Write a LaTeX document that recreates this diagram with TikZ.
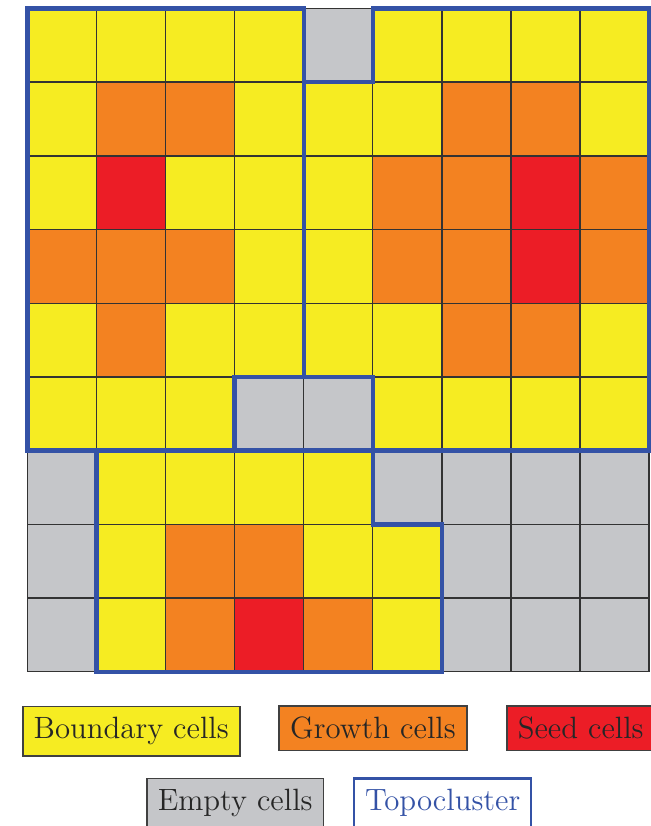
\documentclass[tikz,border=0pt]{standalone}
\usepackage{amsmath}

\definecolor{bc}{RGB}{246,236,34}
\definecolor{gc}{RGB}{243,130,33}
\definecolor{sc}{RGB}{236,29,38}
\definecolor{ec}{RGB}{197,198,201}
\definecolor{topoblue}{RGB}{52,82,166}

\tikzset{
    cellbox/.style={draw=black!80, line width=0.6pt},
    topoline/.style={draw=topoblue, line width=1.8pt},
    legbox/.style={draw=black!75, line width=0.7pt, inner sep=4.5pt,
        text=black!85, font=\fontsize{12.7}{15}\selectfont}
}

\begin{document}
\begin{tikzpicture}[x=1cm, y=1.0672cm]
    \useasboundingbox (-0.398,0.115) rectangle (9.028,-11.093);

    \foreach \row [count=\j from 0] in {
        {bc,bc,bc,bc,ec,bc,bc,bc,bc},
        {bc,gc,gc,bc,bc,bc,gc,gc,bc},
        {bc,sc,bc,bc,bc,gc,gc,sc,gc},
        {gc,gc,gc,bc,bc,gc,gc,sc,gc},
        {bc,gc,bc,bc,bc,bc,gc,gc,bc},
        {bc,bc,bc,ec,ec,bc,bc,bc,bc},
        {ec,bc,bc,bc,bc,ec,ec,ec,ec},
        {ec,bc,gc,gc,bc,bc,ec,ec,ec},
        {ec,bc,gc,sc,gc,bc,ec,ec,ec}}
    {
        \foreach \c [count=\i from 0] in \row
            \filldraw[cellbox, fill=\c] (\i,-\j) rectangle ++(1,-1);
    }

    \draw[topoline] (0,0) -- (4,0) -- (4,-5) -- (3,-5) -- (3,-6) -- (0,-6) -- cycle;
    \draw[topoline] (4,-1) -- (5,-1) -- (5,0) -- (9,0) -- (9,-6) -- (5,-6)
        -- (5,-5) -- (4,-5) -- cycle;
    \draw[topoline] (1,-6) -- (5,-6) -- (5,-7) -- (6,-7) -- (6,-9) -- (1,-9) -- cycle;

    \node[legbox, fill=bc, anchor=base] (boundary) at (1.502,-9.910) {Boundary cells};
    \node[legbox, fill=gc, anchor=base] (growth) at (5.003,-9.910) {Growth cells};
    \node[legbox, fill=sc, anchor=base west] (seed) at (6.929,-9.910) {Seed cells};

    \node[legbox, fill=ec, anchor=base west] (empty) at (1.716,-10.885) {Empty cells};
    \node[legbox, draw=topoblue, line width=1pt, text=topoblue, anchor=base west] (topo)
        at (4.713,-10.885) {Topocluster};
\end{tikzpicture}
\end{document}
